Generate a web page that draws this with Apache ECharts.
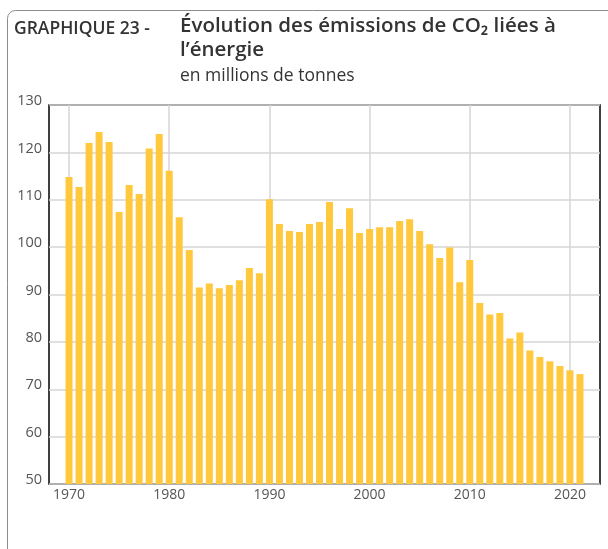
<!DOCTYPE html>
<html>
<head>
<meta charset="utf-8">
<script src="https://cdn.jsdelivr.net/npm/echarts@6/dist/echarts.min.js"></script>
<style>
	html, body { margin: 0; padding: 0; background: #fff; }
	#chart { width: 608px; height: 549px; }
</style>
</head>
<body>
<div id="chart"></div>
<script>
// years shown on the axis (two empty years each side, as in the original)
var years = [];
for (var y = 1968; y <= 2023; y++) years.push(String(y));

// CO2 emissions, million tonnes, 1970-2021
var emissions = [
	114.8, 112.7, 122.0, 124.3, 122.2, 107.4, 113.1, 111.2, 120.8, 123.9,
	116.1, 106.3, 99.4, 91.5, 92.3, 91.3, 92.0, 93.0, 95.6, 94.5,
	110.1, 104.9, 103.4, 103.2, 104.9, 105.3, 109.5, 103.8, 108.2, 103.0,
	103.8, 104.2, 104.2, 105.5, 105.9, 103.4, 100.6, 97.7, 99.9, 92.6,
	97.3, 88.2, 85.8, 86.1, 80.7, 82.0, 78.2, 76.8, 75.9, 74.9,
	74.0, 73.2
];
var firstYear = 1970;

var yTicks = [50, 60, 70, 80, 90, 100, 110, 120, 130];

var values = years.map(function(yr) {
	var i = Number(yr) - firstYear;
	return i >= 0 && i < emissions.length ? emissions[i] : null;
});

var font = 'Open Sans';
var chart = echarts.init(document.getElementById('chart'));

chart.setOption({
	animation: false,
	textStyle: { fontFamily: font },
	graphic: [
		{
			// frame, rounded top-left corner (runs off the page right and bottom)
			type: 'rect',
			shape: { x: 7.5, y: 10.5, width: 800, height: 800, r: [8, 0, 0, 0] },
			style: { fill: null, stroke: '#8c8c8c', lineWidth: 1 },
			silent: true,
		},
		{
			type: 'text', left: 14, top: 20,
			style: { text: 'GRAPHIQUE 23 -', font: '600 17.5px "Open Sans"', fill: '#333' },
		},
		{
			type: 'text', left: 180, top: 16,
			style: { text: 'Évolution des émissions de CO₂ liées à', font: '600 20.5px "Open Sans"', fill: '#333' },
		},
		{
			type: 'text', left: 180, top: 40,
			style: { text: 'l’énergie', font: '600 20.5px "Open Sans"', fill: '#333' },
		},
		{
			type: 'text', left: 180, top: 67,
			style: { text: 'en millions de tonnes', font: '17.5px "Open Sans"', fill: '#333' },
		},
	],
	grid: {
		left: 49, right: 8, top: 105, bottom: 65,
		show: true, borderColor: '#000', borderWidth: 1.5,
	},
	xAxis: {
		type: 'category',
		data: years,
		boundaryGap: false,
		axisLine: { show: false },
		axisTick: { show: false },
		axisLabel: {
			interval: function(idx, val) { return Number(val) % 10 === 0; },
			color: '#555', fontSize: 14, margin: 4,
		},
		splitLine: {
			show: true,
			interval: function(idx, val) { return Number(val) % 10 === 0; },
			lineStyle: { color: '#d6d6d6', width: 1.5 },
		},
	},
	yAxis: {
		type: 'value',
		min: yTicks[0],
		max: yTicks[yTicks.length - 1],
		interval: 10,
		axisLine: { show: false },
		axisTick: { show: false },
		// labels sit a little above their gridline in the original
		axisLabel: { color: '#555', fontSize: 14.5, margin: 7, verticalAlign: 'bottom', lineHeight: 8 },
		splitLine: { lineStyle: { color: '#d6d6d6', width: 1.5 } },
	},
	series: [
		{
			type: 'bar',
			data: values,
			barWidth: 7,
			itemStyle: { color: '#FFC83D' },
		},
	],
});
</script>
</body>
</html>
